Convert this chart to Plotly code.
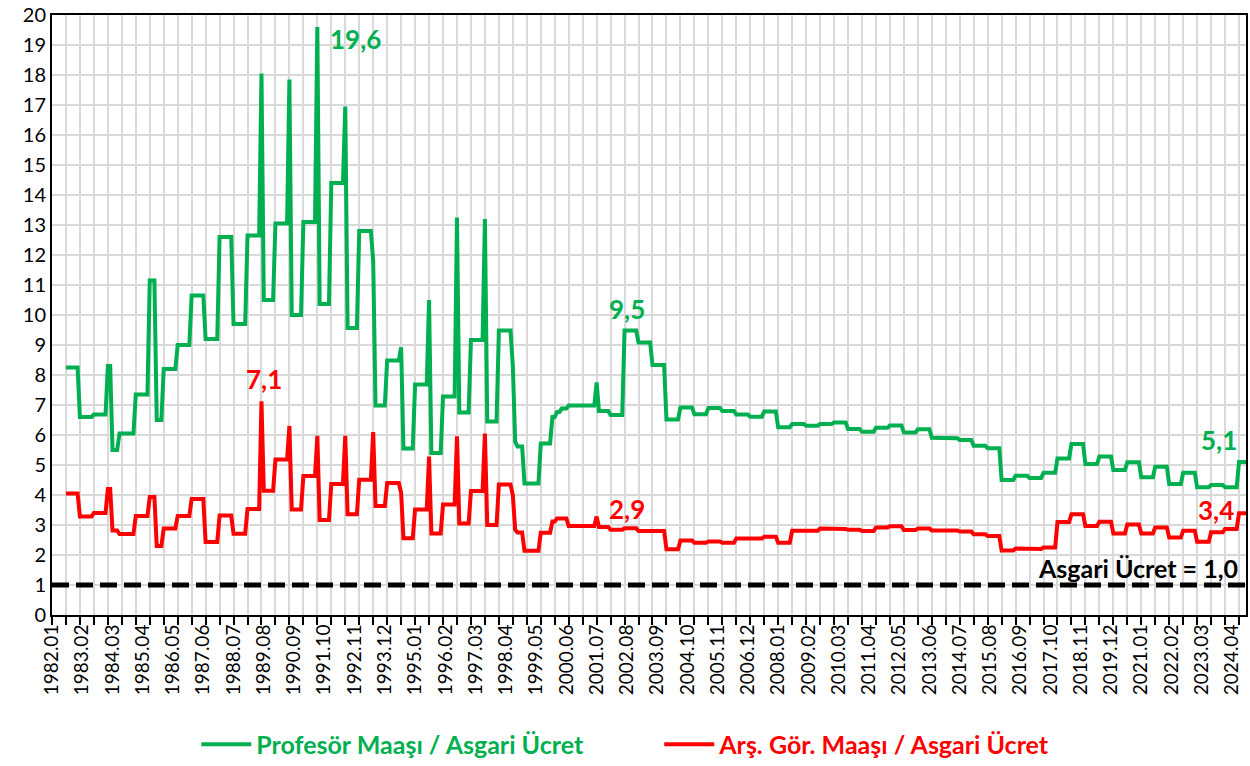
import plotly.graph_objects as go

# monthly series, 1982.01 .. 2024.10 (index 0 = 1982.01), data starts 1982.07
FIRST_YEAR = 1982
N_MONTHS = 514
START_IDX = 6

# Profesör maaşı / asgari ücret -- step values and how many months each holds
prof_values = [
    8.25, 6.6, 6.68, 8.3, 5.5, 6.05, 7.35, 11.15, 6.5, 8.2,
    9.0, 10.65, 9.2, 12.6, 9.7, 12.65, 18.05, 10.5, 13.05, 17.85,
    10.0, 13.1, 19.6, 10.37, 14.4, 16.95, 9.57, 12.8, 11.8, 6.98,
    8.48, 8.92, 5.55, 7.68, 10.5, 5.4, 7.28, 13.25, 6.75, 9.17,
    13.2, 6.45, 9.48, 8.3, 5.78, 5.62, 4.38, 5.72, 6.6, 6.77,
    6.88, 6.98, 7.75, 6.8, 6.67, 9.48, 9.08, 8.33, 6.52, 6.92,
    6.69, 6.9, 6.8, 6.68, 6.61, 6.78, 6.26, 6.37, 6.31, 6.37,
    6.42, 6.2, 6.11, 6.24, 6.32, 6.08, 6.19, 5.91, 5.89, 5.83,
    5.64, 5.56, 4.5, 4.64, 4.57, 4.74, 5.22, 5.7, 5.03, 5.28,
    4.83, 5.09, 4.59, 4.94, 4.37, 4.74, 4.26, 4.33, 4.26, 5.1,
]
prof_months = [
    6, 6, 6, 2, 3, 7, 6, 3, 3, 6,
    6, 6, 6, 6, 6, 6, 1, 5, 6, 1,
    5, 6, 1, 5, 6, 1, 5, 6, 1, 5,
    6, 1, 5, 6, 1, 5, 6, 1, 5, 6,
    1, 5, 6, 1, 1, 3, 7, 5, 2, 2,
    3, 12, 1, 5, 6, 6, 6, 6, 6, 6,
    6, 6, 6, 6, 6, 6, 6, 6, 6, 6,
    6, 6, 6, 6, 6, 6, 6, 6, 6, 6,
    6, 6, 6, 6, 6, 6, 6, 6, 6, 6,
    6, 6, 6, 6, 6, 6, 6, 6, 6, 4,
]

# Arş. Gör. maaşı / asgari ücret
ra_values = [
    4.05, 3.28, 3.4, 4.2, 2.82, 2.7, 3.3, 3.93, 2.3, 2.88,
    3.3, 3.87, 2.43, 3.32, 2.71, 3.53, 7.12, 4.14, 5.18, 6.3,
    3.52, 4.63, 5.97, 3.17, 4.37, 5.97, 3.36, 4.51, 6.1, 3.63,
    4.4, 4.07, 2.56, 3.52, 5.28, 2.72, 3.68, 5.96, 3.05, 4.13,
    6.05, 3.0, 4.35, 4.0, 2.84, 2.75, 2.14, 2.74, 3.12, 3.22,
    2.97, 3.28, 2.93, 2.84, 2.89, 2.8, 2.19, 2.48, 2.41, 2.45,
    2.41, 2.55, 2.55, 2.61, 2.41, 2.81, 2.81, 2.88, 2.87, 2.84,
    2.8, 2.92, 2.96, 2.83, 2.88, 2.82, 2.78, 2.69, 2.63, 2.15,
    2.22, 2.2, 2.25, 3.1, 3.36, 2.97, 3.11, 2.72, 3.02, 2.72,
    2.92, 2.58, 2.81, 2.44, 2.76, 2.87, 3.39,
]
ra_months = [
    6, 6, 6, 2, 3, 7, 6, 3, 3, 6,
    6, 6, 6, 6, 6, 6, 1, 5, 6, 1,
    5, 6, 1, 5, 6, 1, 5, 6, 1, 5,
    6, 1, 5, 6, 1, 5, 6, 1, 5, 6,
    1, 5, 6, 1, 1, 3, 7, 5, 2, 5,
    12, 1, 5, 6, 6, 12, 6, 6, 6, 6,
    6, 6, 6, 6, 6, 6, 6, 6, 6, 6,
    6, 6, 6, 6, 6, 12, 6, 6, 6, 6,
    6, 6, 6, 6, 6, 6, 6, 6, 6, 6,
    6, 6, 6, 6, 6, 6, 4,
]

MIN_WAGE = 1.0

GREEN = "#00B050"
RED = "#FF0000"
GRID = "#D9D9D9"
FONT = "Lato"


def expand(values, months):
    out = []
    for v, n in zip(values, months):
        out += [v] * n
    return out


month_labels = [f"{FIRST_YEAR + k // 12}.{k % 12 + 1:02d}" for k in range(N_MONTHS)]

prof = expand(prof_values, prof_months)
ra = expand(ra_values, ra_months)
prof_x = list(range(START_IDX, START_IDX + len(prof)))
ra_x = list(range(START_IDX, START_IDX + len(ra)))

fig = go.Figure()

fig.add_trace(go.Scatter(
    x=prof_x, y=prof, mode="lines",
    name=f"<b><span style='color:{GREEN}'>Profesör Maaşı / Asgari Ücret</span></b>",
    line=dict(color=GREEN, width=4),
    customdata=[month_labels[i] for i in prof_x],
    hovertemplate="%{customdata}: %{y:.2f}<extra>Profesör</extra>",
))
fig.add_trace(go.Scatter(
    x=ra_x, y=ra, mode="lines",
    name=f"<b><span style='color:{RED}'>Arş. Gör. Maaşı / Asgari Ücret</span></b>",
    line=dict(color=RED, width=4),
    customdata=[month_labels[i] for i in ra_x],
    hovertemplate="%{customdata}: %{y:.2f}<extra>Arş. Gör.</extra>",
))

fig.add_hline(y=MIN_WAGE, line=dict(color="black", width=5, dash="17px,7px"))


def label(series, xs, idx, text, color, dx, dy):
    fig.add_annotation(
        x=xs[idx], y=series[idx], text=f"<b>{text}</b>", showarrow=False,
        xshift=dx, yshift=dy, font=dict(family=FONT, size=26, color=color),
    )


p_max = max(range(len(prof)), key=lambda k: prof[k])
r_max = max(range(len(ra)), key=lambda k: ra[k])
p_2002 = month_labels.index("2002.08") - START_IDX
label(prof, prof_x, p_max, "19,6", GREEN, 38, -12)
label(ra, ra_x, r_max, "7,1", RED, 3, 22)
label(prof, prof_x, p_2002, "9,5", GREEN, 0, 22)
label(ra, ra_x, p_2002, "2,9", RED, 0, 19)
label(prof, prof_x, len(prof) - 1, "5,1", GREEN, -27, 22)
label(ra, ra_x, len(ra) - 1, "3,4", RED, -30, 3)

fig.add_annotation(
    xref="paper", x=1, xanchor="right", xshift=-6, y=MIN_WAGE, yshift=17,
    text="<b>Asgari Ücret = 1,0</b>", showarrow=False,
    font=dict(family=FONT, size=25, color="black"),
)

tick_idx = list(range(0, N_MONTHS, 13))

fig.update_layout(
    width=1250, height=766,
    margin=dict(l=52, r=2, t=15, b=151),
    plot_bgcolor="white", paper_bgcolor="white",
    font=dict(family=FONT, size=20, color="black"),
    showlegend=True,
    legend=dict(orientation="h", xref="container", x=0.157, xanchor="left",
                yref="container", y=0.028, yanchor="middle",
                font=dict(family=FONT, size=25), itemwidth=50,
                entrywidth=398, entrywidthmode="pixels"),
    xaxis=dict(
        range=[0, N_MONTHS - 1],
        tickmode="array", tickvals=tick_idx, ticktext=[month_labels[i] for i in tick_idx],
        tickangle=-90, ticks="", showgrid=False, zeroline=False,
        tickfont=dict(size=19),
        showline=True, linecolor="black", linewidth=2, mirror=True,
        minor=dict(tickmode="linear", tick0=0, dtick=6, ticks="outside", ticklen=8,
                   tickwidth=2, tickcolor="black", showgrid=True, gridcolor=GRID, gridwidth=1.5),
    ),
    yaxis=dict(
        range=[0, 20], dtick=1, showgrid=True, gridcolor=GRID, gridwidth=1.5,
        zeroline=False, ticks="", tickfont=dict(size=20),
        showline=True, linecolor="black", linewidth=2, mirror=True,
    ),
)

fig.write_html("out.html", config={"displayModeBar": False},
               post_script="document.body.style.margin='0';")
